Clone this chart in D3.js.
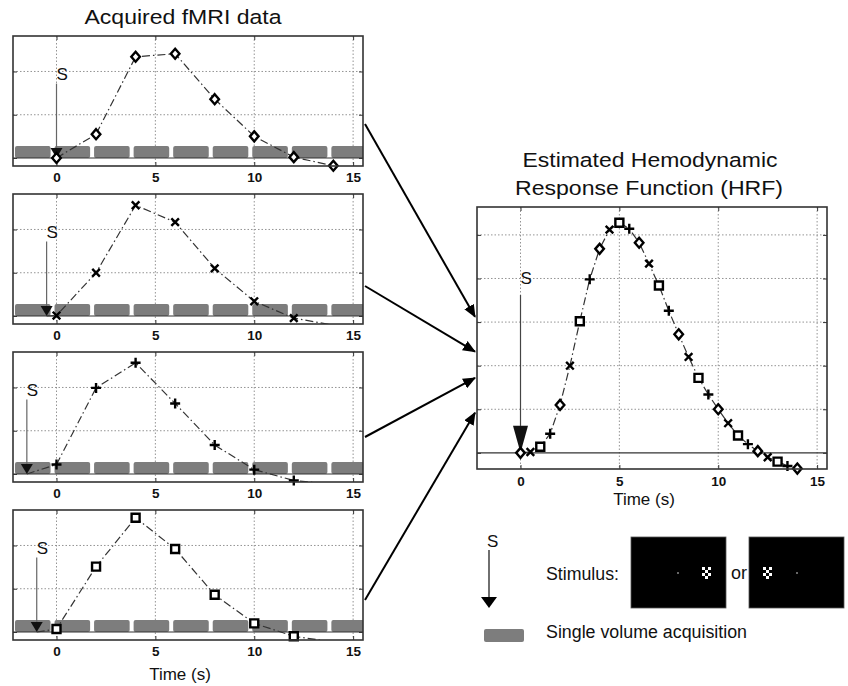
<!DOCTYPE html>
<html>
<head>
<meta charset="utf-8">
<script src="https://cdn.jsdelivr.net/npm/d3@7"></script>
<style>
  body { margin: 0; background: #fff; }
  text { font-family: "Liberation Sans", Arial, Helvetica, sans-serif; fill: #111; }
</style>
</head>
<body>
<svg id="chart" width="848" height="686"></svg>
<script>
// ---- data ----
var acqTimes = [0, 2, 4, 6, 8, 10, 12, 14];          // volume times (s) in each run
var volumeStarts = [-2, 0, 2, 4, 6, 8, 10, 12, 14];   // grey acquisition bars
var stimOnsets = [0, -0.5, -1.5, -1.0];               // stimulus time in each run
var markerShapes = ["diamond", "cross", "plus", "square"];
var diamondVals = [0, 0.55, 2.34, 2.41, 1.36, 0.50, 0.02, -0.18];
var crossVals   = [0.01, 1.00, 2.56, 2.17, 1.10, 0.34, -0.05, -0.21];
var plusVals    = [0.22, 1.99, 2.57, 1.63, 0.67, 0.10, -0.15, -0.24];
var squareVals  = [0.07, 1.51, 2.64, 1.92, 0.86, 0.20, -0.10, -0.23];
var xTicks = [0, 5, 10, 15];
var smallYTicks = [0, 1, 2];
var hrfYTicks = [0, 0.5, 1, 1.5, 2, 2.5];
// stimulus picture: white checker cells (col,row)
var checkerCells = [[0,0],[2,0],[1,1],[0,2],[2,2],[1,3]];

var runs = [diamondVals, crossVals, plusVals, squareVals];

var svg = d3.select("#chart");
var xDomain = [-2.2, 15.5], yDomain = [-0.185, 2.82];
var W = 350;

var defs = svg.append("defs");
defs.append("marker").attr("id", "ah")
  .attr("viewBox", "0 0 12 10").attr("refX", 11).attr("refY", 5)
  .attr("markerWidth", 13).attr("markerHeight", 11).attr("markerUnits", "userSpaceOnUse")
  .attr("orient", "auto")
  .append("path").attr("d", "M0,0L12,5L0,10Z").attr("fill", "#000");

function markerPath(shape) {
  if (shape == "diamond") return "M0,-5L4.3,0L0,5L-4.3,0Z";
  if (shape == "square") return "M-4,-4H4V4H-4Z";
  if (shape == "cross") return "M-3.8,-3.8L3.8,3.8M-3.8,3.8L3.8,-3.8";
  return "M-5,0H5M0,-5V5";
}

// axes box, grid, ticks and labels
function drawFrame(g, x, y, h, yTicks, labelPad, id) {
  defs.append("clipPath").attr("id", id).append("rect")
    .attr("x", 0).attr("y", 0).attr("width", W).attr("height", h);

  g.selectAll(".vgrid").data(xTicks.filter(function(d){ return d > xDomain[0] && d < xDomain[1]; }))
    .enter().append("line")
    .attr("x1", function(d){ return x(d); }).attr("x2", function(d){ return x(d); })
    .attr("y1", 0).attr("y2", h)
    .attr("stroke", "#888").attr("stroke-width", 0.9).attr("stroke-dasharray", "1.5,2");
  g.selectAll(".hgrid").data(yTicks.filter(function(d){ return d != 0; }))
    .enter().append("line")
    .attr("x1", 0).attr("x2", W)
    .attr("y1", function(d){ return y(d); }).attr("y2", function(d){ return y(d); })
    .attr("stroke", "#888").attr("stroke-width", 0.9).attr("stroke-dasharray", "1.5,2");

  var bx = g.append("g").attr("transform", "translate(0," + h + ")")
    .call(d3.axisBottom(x).tickValues(xTicks).tickSize(-4).tickPadding(labelPad));
  bx.selectAll("text").style("font-size", "13.5px").style("font-weight", "bold").attr("fill", "#111");
  g.append("g").call(d3.axisTop(x).tickValues(xTicks).tickSize(-4).tickFormat(""));
  g.append("g").call(d3.axisLeft(y).tickValues(yTicks).tickSize(-4).tickFormat(""));
  g.append("g").attr("transform", "translate(" + W + ",0)")
    .call(d3.axisRight(y).tickValues(yTicks).tickSize(-4).tickFormat(""));
  g.selectAll(".domain").remove();
  g.selectAll(".tick line").attr("stroke", "#333");
}

function drawBox(g, h) {
  g.append("rect").attr("width", W).attr("height", h)
    .attr("fill", "none").attr("stroke", "#333").attr("stroke-width", 1.6);
}

function drawStim(g, x, y, t, textVal, lineVal, triW, triH, lineColor) {
  g.append("line").attr("x1", x(t)).attr("x2", x(t))
    .attr("y1", y(lineVal)).attr("y2", y(0) - triH)
    .attr("stroke", lineColor).attr("stroke-width", 1.2);
  g.append("path")
    .attr("d", "M" + (x(t) - triW / 2) + "," + (y(0) - triH) + "L" + (x(t) + triW / 2) + "," + (y(0) - triH) + "L" + x(t) + "," + y(0) + "Z")
    .attr("fill", "#111");
  g.append("text").attr("x", x(t)).attr("y", y(textVal))
    .style("font-size", "17px").text("S");
}

function drawSeries(g, x, y, pts, clipId) {
  g.append("path").datum(pts)
    .attr("clip-path", "url(#" + clipId + ")")
    .attr("d", d3.line().x(function(d){ return x(d.t); }).y(function(d){ return y(d.v); }))
    .attr("fill", "none").attr("stroke", "#333").attr("stroke-width", 1.2)
    .attr("stroke-dasharray", "8,3,1.5,3");
}

function drawMarkers(g, x, y, pts) {
  g.selectAll(".mk").data(pts.filter(function(d){ return d.shape && d.v >= yDomain[0] && d.v <= yDomain[1]; }))
    .enter().append("path")
    .attr("transform", function(d){ return "translate(" + x(d.t) + "," + y(d.v) + ")"; })
    .attr("d", function(d){ return markerPath(d.shape); })
    .attr("fill", "#fff").attr("stroke", "#000").attr("stroke-width", 2.4);
}

// ---- four acquired runs ----
var panelLeft = 13, panelTops = [36, 194, 352, 510], panelH = 130;
var xs = d3.scaleLinear().domain(xDomain).range([0, W]);
var ys = d3.scaleLinear().domain(yDomain).range([panelH, 0]);

runs.forEach(function(vals, i) {
  var g = svg.append("g").attr("transform", "translate(" + panelLeft + "," + panelTops[i] + ")");
  var cid = "clipS" + i;
  drawFrame(g, xs, ys, panelH, smallYTicks, 6.5, cid);

  // acquisition bars
  g.append("g").attr("clip-path", "url(#" + cid + ")")
    .selectAll("rect").data(volumeStarts).enter().append("rect")
    .attr("x", function(d){ return xs(d - 0.1); })
    .attr("width", xs(1.8) - xs(0))
    .attr("y", ys(0.28)).attr("height", ys(0) - ys(0.28))
    .attr("rx", 2).attr("fill", "#7d7d7d");
  g.append("line").attr("x1", 0).attr("x2", W).attr("y1", ys(0)).attr("y2", ys(0))
    .attr("stroke", "#333").attr("stroke-width", 1.2);

  drawStim(g, xs, ys, stimOnsets[i], 1.8, 1.72, 12, 10, "#666");

  var pts = [{t: stimOnsets[i], v: 0}];
  if (stimOnsets[i] == 0) pts = [];
  acqTimes.forEach(function(t, k){ pts.push({t: t, v: vals[k], shape: markerShapes[i]}); });
  drawSeries(g, xs, ys, pts, cid);
  drawMarkers(g, xs, ys, pts);
  drawBox(g, panelH);
});

svg.append("text").attr("x", panelLeft + W / 2 - 5).attr("y", 24).attr("text-anchor", "middle")
  .attr("textLength", 197).attr("lengthAdjust", "spacingAndGlyphs")
  .style("font-size", "20.5px").text("Acquired fMRI data");
svg.append("text").attr("x", 180).attr("y", 680).attr("text-anchor", "middle")
  .style("font-size", "17px").text("Time (s)");

// ---- estimated HRF ----
var hrfLeft = 477, hrfTop = 207, hrfH = 262;
var yh = d3.scaleLinear().domain(yDomain).range([hrfH, 0]);
var gh = svg.append("g").attr("transform", "translate(" + hrfLeft + "," + hrfTop + ")");
drawFrame(gh, xs, yh, hrfH, hrfYTicks, 7.5, "clipH");
gh.append("line").attr("x1", 0).attr("x2", W).attr("y1", yh(0)).attr("y2", yh(0))
  .attr("stroke", "#333").attr("stroke-width", 1.2);
drawStim(gh, xs, yh, 0, 1.94, 1.81, 15, 27, "#444");

var hrfPts = [];
runs.forEach(function(vals, i) {
  acqTimes.forEach(function(t, k){
    hrfPts.push({t: t - stimOnsets[i], v: vals[k], shape: markerShapes[i]});
  });
});
hrfPts.sort(function(a, b){ return a.t - b.t; });
drawSeries(gh, xs, yh, hrfPts, "clipH");
drawMarkers(gh, xs, yh, hrfPts);
drawBox(gh, hrfH);

svg.append("text").attr("x", 650).attr("y", 167).attr("text-anchor", "middle")
  .attr("textLength", 255).attr("lengthAdjust", "spacingAndGlyphs")
  .style("font-size", "20.5px").text("Estimated Hemodynamic");
svg.append("text").attr("x", 649).attr("y", 195).attr("text-anchor", "middle")
  .attr("textLength", 268).attr("lengthAdjust", "spacingAndGlyphs")
  .style("font-size", "20.5px").text("Response Function (HRF)");
svg.append("text").attr("x", 644).attr("y", 505).attr("text-anchor", "middle")
  .style("font-size", "17px").text("Time (s)");

// ---- arrows from runs to HRF ----
var arrowStartOff = [88, 92, 85, 90];
var arrowEndVals = [1.56, 1.16, 0.86, 0.46];
panelTops.forEach(function(top, i) {
  svg.append("line")
    .attr("x1", panelLeft + W + 2).attr("y1", top + arrowStartOff[i])
    .attr("x2", hrfLeft - 2).attr("y2", hrfTop + yh(arrowEndVals[i]))
    .attr("stroke", "#000").attr("stroke-width", 2)
    .attr("marker-end", "url(#ah)");
});

// ---- legend ----
var lg = svg.append("g");
lg.append("text").attr("x", 487).attr("y", 547).style("font-size", "17px").text("S");
lg.append("line").attr("x1", 489).attr("x2", 489).attr("y1", 550).attr("y2", 597)
  .attr("stroke", "#222").attr("stroke-width", 1.3);
lg.append("path").attr("d", "M481,597L497,597L489,608Z").attr("fill", "#000");
lg.append("text").attr("x", 546).attr("y", 580).attr("textLength", 73)
  .attr("lengthAdjust", "spacingAndGlyphs").style("font-size", "18px").text("Stimulus:");
lg.append("text").attr("x", 731).attr("y", 579).style("font-size", "18px").text("or");

// two stimulus screens: checker on the right or on the left of fixation
[{x: 631, fix: 47, chk: 71}, {x: 749, fix: 48, chk: 14}].forEach(function(s) {
  lg.append("rect").attr("x", s.x).attr("y", 537).attr("width", 95).attr("height", 71)
    .attr("fill", "#000").attr("stroke", "#555").attr("stroke-width", 0.8);
  lg.append("rect").attr("x", s.x + s.fix - 1).attr("y", 572).attr("width", 2).attr("height", 2)
    .attr("fill", "#666");
  lg.selectAll(null).data(checkerCells).enter().append("rect")
    .attr("x", function(d){ return s.x + s.chk + d[0] * 3; })
    .attr("y", function(d){ return 567 + d[1] * 3; })
    .attr("width", 3).attr("height", 3).attr("fill", "#fff");
});

lg.append("rect").attr("x", 484).attr("y", 629).attr("width", 40).attr("height", 13)
  .attr("rx", 2).attr("fill", "#7d7d7d");
lg.append("text").attr("x", 546).attr("y", 638).attr("textLength", 201)
  .attr("lengthAdjust", "spacingAndGlyphs").style("font-size", "18px")
  .text("Single volume acquisition");
</script>
</body>
</html>
